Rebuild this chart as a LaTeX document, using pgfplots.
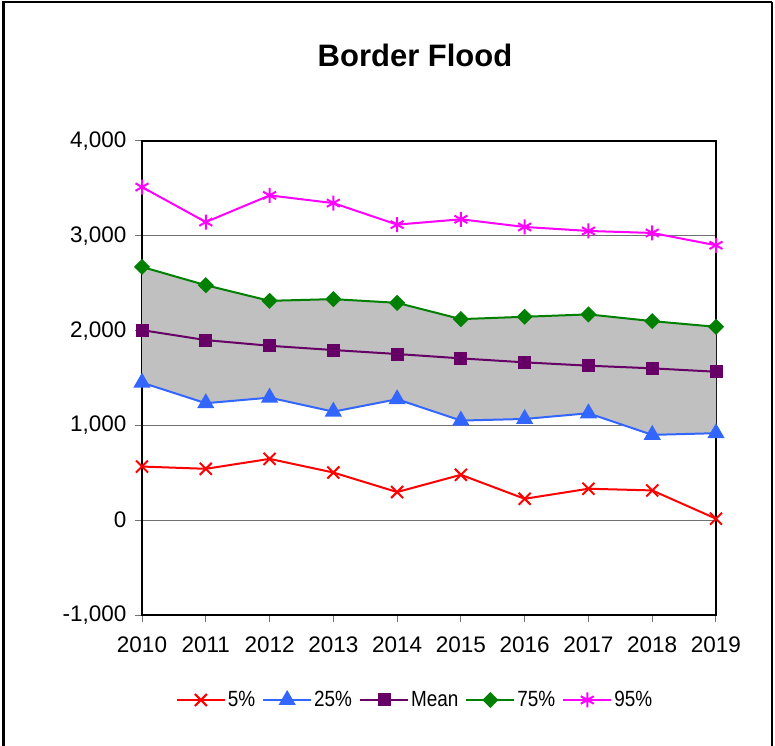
\documentclass[border=0pt]{standalone}
\usepackage{graphicx}
\usepackage{pgfplots}
\pgfplotsset{compat=1.18}
\usepgfplotslibrary{fillbetween}
\usepackage{fontspec}
\setmainfont{Liberation Sans}
\definecolor{cRed}{HTML}{FF0000}
\definecolor{cBlue}{HTML}{3366FF}
\definecolor{cPurple}{HTML}{660066}
\definecolor{cGreen}{HTML}{008000}
\definecolor{cMag}{HTML}{FF00FF}
\definecolor{cFill}{HTML}{C0C0C0}
\definecolor{cGrid}{HTML}{707070}
\newcommand{\legtxt}[1]{\scalebox{0.86}[1]{#1}}
\begin{document}
\begin{tikzpicture}[x=1pt,y=1pt]
\node[font=\fontsize{31}{36}\selectfont\bfseries] at (415,690) {Border Flood};
\begin{axis}[
  at={(142pt,130pt)}, anchor=south west,
  scale only axis, width=574pt, height=474pt,
  set layers,
  xmin=2010, xmax=2019, ymin=-1000, ymax=4000,
  xtick={2010,...,2019}, ytick={-1000,0,1000,2000,3000,4000},
  ymajorgrids, grid style={cGrid, line width=0.9pt},
  axis line style={black, line width=2pt},
  tick align=outside, major tick length=7pt,
  tick style={cGrid, line width=1pt},
  xtick pos=bottom, ytick pos=left,
  xticklabel style={/pgf/number format/1000 sep={}, yshift=-11pt},
  yticklabel style={/pgf/number format/1000 sep={,}, xshift=-5pt},
  /pgf/number format/assume math mode=true,
  tick label style={font=\fontsize{22.5}{26}\selectfont},
  legend columns=5,
  legend style={at={(0.4756,-0.1793)}, anchor=center, draw=none, fill=none,
    font=\fontsize{22}{26}\selectfont, /tikz/every even column/.append style={column sep=5pt}},
  legend image code/.code={\draw[mark repeat=2,mark phase=2] plot coordinates {(0pt,0pt)(24pt,0pt)(48pt,0pt)};},
  every axis plot/.append style={line width=2pt, mark options={solid}},
]
\addplot[cRed, mark=x, mark size=8.5pt] coordinates {
(2010,566)(2011,542)(2012,647)(2013,503)(2014,297)(2015,479)(2016,226)(2017,332)(2018,314)(2019,16)};
\addlegendentry{\legtxt{5\%}}
\addplot[cBlue, mark=triangle*, mark size=8pt, name path=p25] coordinates {
(2010,1451)(2011,1234)(2012,1293)(2013,1145)(2014,1276)(2015,1051)(2016,1068)(2017,1128)(2018,900)(2019,918)};
\addlegendentry{\legtxt{25\%}}
\addplot[cPurple, mark=square*, mark size=5.5pt] coordinates {
(2010,2005)(2011,1900)(2012,1840)(2013,1795)(2014,1753)(2015,1707)(2016,1665)(2017,1630)(2018,1602)(2019,1566)};
\addlegendentry{\legtxt{Mean}}
\addplot[cGreen, mark=square*, mark size=4.7pt, mark options={solid,rotate=45}, name path=p75] coordinates {
(2010,2672)(2011,2479)(2012,2314)(2013,2332)(2014,2293)(2015,2121)(2016,2146)(2017,2171)(2018,2100)(2019,2040)};
\addlegendentry{\legtxt{75\%}}
\addplot[cMag, mark=asterisk, mark size=7.5pt] coordinates {
(2010,3514)(2011,3145)(2012,3426)(2013,3345)(2014,3118)(2015,3174)(2016,3093)(2017,3051)(2018,3030)(2019,2900)};
\addlegendentry{\legtxt{95\%}}
\addplot[cFill, draw=none, forget plot] fill between[of=p75 and p25];
\end{axis}
\draw[line width=3pt] (3,-10) -- (3,743);
\draw[line width=2.5pt] (1.5,743) -- (772,743);
\draw[line width=2pt] (772,743) -- (772,-10);
\pgfresetboundingbox
\useasboundingbox (0,0) rectangle (775,745);
\end{tikzpicture}
\end{document}
